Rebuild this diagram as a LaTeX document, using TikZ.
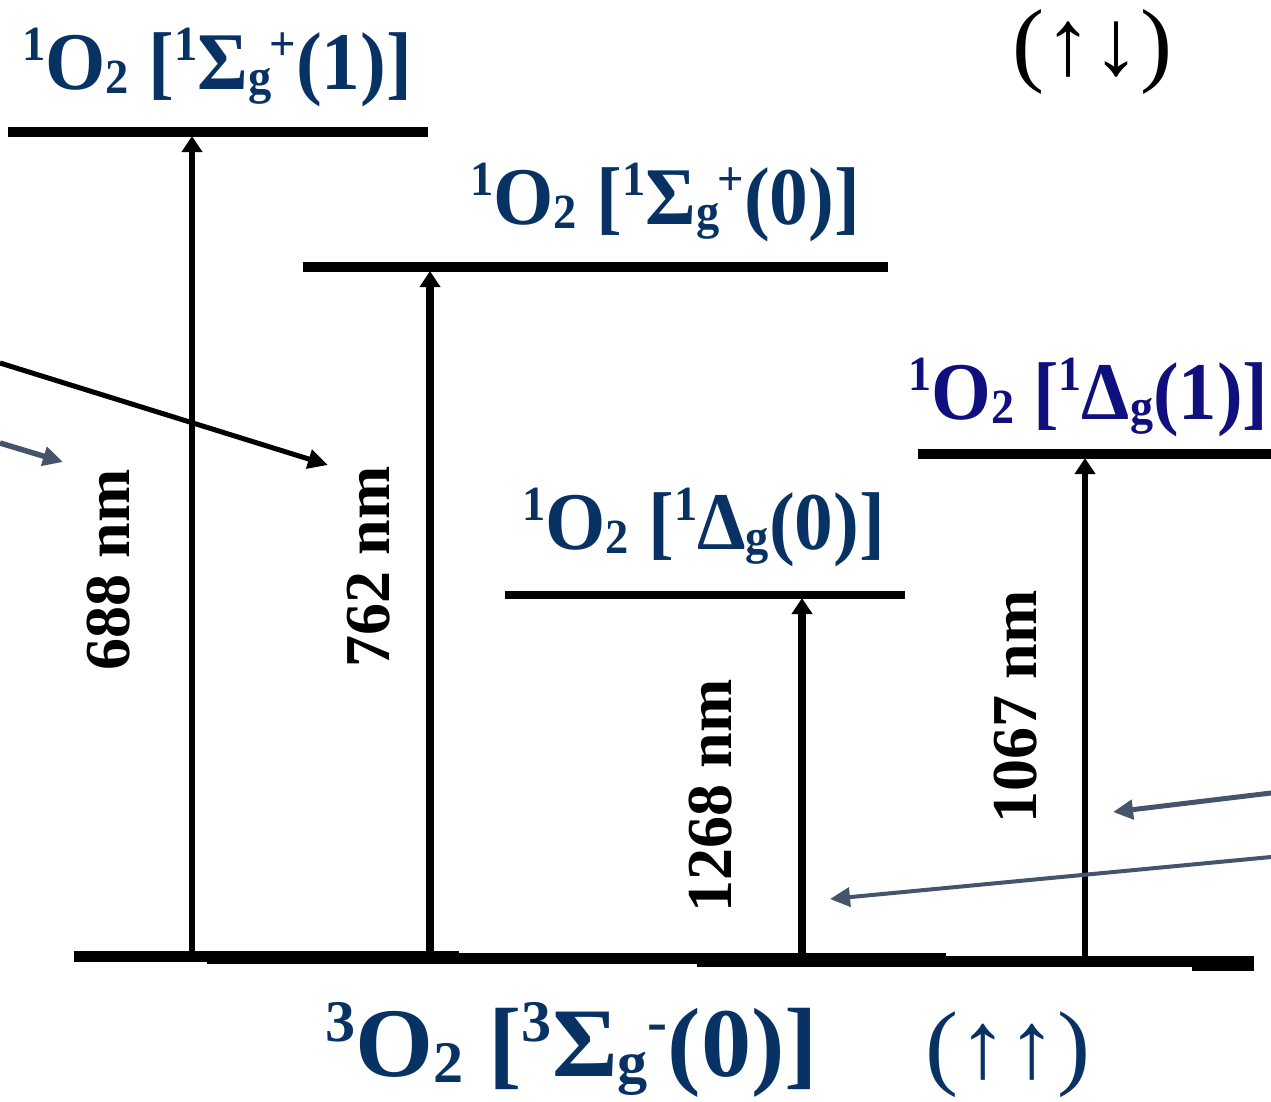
\documentclass[tikz,border=0pt]{standalone}
\usepackage{fontspec}
\setmainfont{Liberation Serif}
\usetikzlibrary{arrows.meta}
\definecolor{lblue}{RGB}{8,50,100}
\definecolor{lnavy}{RGB}{15,15,125}
\definecolor{slate}{RGB}{68,84,106}
\newcommand{\hsup}[1]{\raisebox{32pt}{\fontsize{54}{54}\selectfont #1}}
\newcommand{\hsub}[1]{\raisebox{-5pt}{\fontsize{54}{54}\selectfont #1}}
\newcommand{\lab}[3]{\resizebox*{#1}{#2}{\fontsize{90}{100}\selectfont\bfseries #3}}
\newcommand{\spin}[3]{\resizebox*{#1}{#2}{\fontsize{100}{110}\selectfont #3}}
\begin{document}
\begin{tikzpicture}[x=1pt,y=-1pt,
  levelline/.style={line width=10pt},
  trans/.style={-{Triangle[width=20pt,length=16pt]}},
  wl/.style={rotate=90,font=\fontsize{64}{70}\selectfont\bfseries,inner sep=0pt},
  lbl/.style={anchor=south west,inner sep=0pt,text=lblue},
  pointer/.style={line width=5pt,-{Triangle[width=19pt,length=20pt]}}]
\useasboundingbox (0,0) rectangle (1271,1101);
\fill[white] (0,0) rectangle (1271,1101);

% ground state (stepped line)
\fill (74,951) rectangle (459,962);
\fill (207,953) rectangle (946,964);
\fill (697,956) rectangle (1254,967);
\fill (1192,960) rectangle (1254,971);

% excited levels
\coordinate (A1) at (8,131.5);   \coordinate (A2) at (428,131.5);
\coordinate (B1) at (303,266.5); \coordinate (B2) at (888,266.5);
\coordinate (C1) at (918,453.5); \coordinate (C2) at (1271,453.5);
\coordinate (D1) at (505,594.5); \coordinate (D2) at (905,594.5);
\draw[levelline] (A1) -- (A2);
\draw[levelline] (B1) -- (B2);
\draw[levelline] (C1) -- (C2);
\draw[levelline, line width=8pt] (D1) -- (D2);

% transitions
\coordinate (g1) at (192,957);  \coordinate (t1) at (192,136);
\coordinate (g2) at (430,957);  \coordinate (t2) at (430,271);
\coordinate (g3) at (802,957);  \coordinate (t3) at (802,598);
\coordinate (g4) at (1085,957); \coordinate (t4) at (1085,458);
\draw[trans, line width=6.5pt] (g1) -- (t1);
\draw[trans, line width=7.5pt] (g2) -- (t2);
\draw[trans, line width=8pt] (g3) -- (t3);
\draw[trans, line width=6.5pt] (g4) -- (t4);

% wavelength labels
\node[wl] (w1) at (109,570) {688 nm};
\node[wl] (w2) at (369,567) {762 nm};
\node[wl] (w3) at (711,796) {1268 nm};
\node[wl] (w4) at (1016,707) {1067 nm};

% state labels
\node[lbl] (s1) at (22,107) {\lab{390pt}{79pt}{\hsup{1}O\hsub{2} [\hsup{1}Σ\hsub{g}\kern-2pt\hsup{+}(1)]}};
\node[lbl] (s2) at (470,242) {\lab{390pt}{79pt}{\hsup{1}O\hsub{2} [\hsup{1}Σ\hsub{g}\kern-2pt\hsup{+}(0)]}};
\node[lbl, text=lnavy] (s3) at (908,437) {\lab{360pt}{79pt}{\hsup{1}O\hsub{2} [\hsup{1}Δ\hsub{g}(1)]}};
\node[lbl] (s4) at (522,567) {\lab{363pt}{79pt}{\hsup{1}O\hsub{2} [\hsup{1}Δ\hsub{g}(0)]}};
\node[lbl] (s0) at (325,1098) {\lab{493pt}{95pt}{\hsup{3}O\hsub{2} [\hsup{3}Σ\hsub{g}\hsup{-}(0)]}};
\node[lbl] (p0) at (925,1098) {\spin{165pt}{86pt}{(↑↑)}};
\node[lbl, text=black] (p1) at (1012,95) {\spin{160pt}{85pt}{(↑↓)}};

% pointers
\coordinate (e1) at (0,363);    \coordinate (h1) at (328,465);
\coordinate (e2) at (0,443);    \coordinate (h2) at (63,462);
\coordinate (e3) at (1271,793); \coordinate (h3) at (1113,812);
\coordinate (e4) at (1271,857); \coordinate (h4) at (830,899);
\draw[pointer] (e1) -- (h1);
\draw[pointer, slate, line width=5.5pt] (e2) -- (h2);
\draw[pointer, slate] (e3) -- (h3);
\draw[pointer, slate, line width=4pt] (e4) -- (h4);
\end{tikzpicture}
\end{document}
